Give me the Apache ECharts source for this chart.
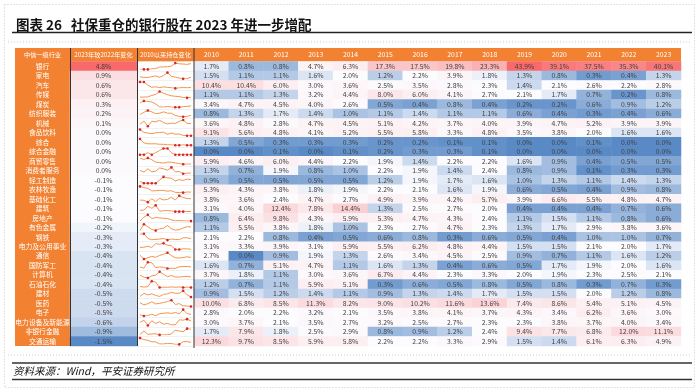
<!DOCTYPE html>
<html><head><meta charset="utf-8">
<script src="https://cdn.jsdelivr.net/npm/echarts@6/dist/echarts.min.js"></script>
<style>html,body{margin:0;padding:0;background:#fff}#c{width:700px;height:392px}</style>
</head><body><div id="c"></div>
<script>
const industries = ['银行','家电','汽车','传媒','煤炭','纺织服装','机械','食品饮料','综合','综合金融','商贸零售','消费者服务','轻工制造','农林牧渔','基础化工','建筑','房地产','有色金属','钢铁','电力及公用事业','通信','国防军工','计算机','石油石化','建材','医药','电子','电力设备及新能源','非银行金融','交通运输'];
const change = [4.8,0.9,0.6,0.6,0.3,0.2,0.1,0.0,0.0,0.0,0.0,0.0,-0.1,-0.1,-0.1,-0.1,-0.1,-0.2,-0.3,-0.3,-0.4,-0.4,-0.4,-0.4,-0.5,-0.5,-0.5,-0.6,-0.9,-1.5];
const years = ['2010','2011','2012','2013','2014','2015','2016','2017','2018','2019','2020','2021','2022','2023'];
const v2010 = [1.7,1.5,10.4,1.1,3.4,0.8,3.6,9.1,1.3,0.0,5.9,1.3,0.9,5.3,3.8,3.1,0.8,1.1,2.1,3.1,2.7,1.6,3.7,1.2,0.9,10.0,2.8,3.0,1.7,12.3];
const v2011 = [0.8,1.1,10.4,1.1,4.7,1.3,4.8,5.6,0.5,0.0,4.6,0.7,0.5,4.3,3.6,4.0,6.4,5.5,2.2,3.3,0.0,0.7,1.8,0.7,1.5,6.8,2.0,3.7,7.9,9.7];
const v2012 = [0.8,1.1,6.0,1.3,4.5,1.7,2.8,4.8,0.3,0.1,6.0,1.9,0.5,3.8,2.4,12.4,9.8,3.8,0.8,3.9,0.9,5.1,1.1,1.1,1.2,8.5,2.2,2.1,1.8,8.5];
const v2013 = [4.7,1.6,3.0,3.2,4.0,1.4,4.7,4.1,0.3,0.0,4.4,0.8,0.5,1.8,4.7,7.8,4.3,1.8,0.4,3.1,1.9,4.7,3.0,5.9,1.4,11.3,3.2,3.5,2.5,5.9];
const v2014 = [6.3,2.0,3.6,4.4,2.6,1.0,4.5,5.2,0.3,0.1,2.2,1.0,0.5,1.9,2.7,14.4,5.9,1.0,0.5,5.9,1.3,1.1,3.6,5.1,1.1,8.2,2.1,2.7,2.9,5.8];
const v2015 = [17.3,1.2,2.5,8.0,0.5,1.1,5.1,5.5,0.2,0.2,1.9,2.2,1.2,2.2,4.9,1.3,5.3,2.3,0.6,5.5,2.6,1.6,6.7,0.3,0.9,9.0,3.5,3.2,0.8,2.2];
const v2016 = [17.5,2.2,3.5,6.0,0.4,1.4,4.2,5.8,0.2,0.3,1.4,1.9,1.9,2.1,3.9,2.5,4.7,2.7,0.8,6.2,3.4,1.3,4.4,0.6,1.3,10.2,3.8,2.5,0.9,2.2];
const v2017 = [19.8,3.9,2.8,4.1,0.8,1.1,3.7,3.3,0.1,0.3,2.2,1.4,1.7,1.6,4.2,2.7,4.3,4.7,0.3,4.8,4.5,0.4,2.3,0.5,1.4,11.6,4.1,2.7,1.2,3.3];
const v2018 = [23.3,1.8,2.3,2.7,0.4,1.1,4.0,4.8,0.1,0.1,2.2,2.4,1.6,1.9,5.7,2.0,2.4,2.3,0.6,4.4,2.5,0.6,3.3,0.8,1.7,13.6,3.7,2.3,2.4,2.9];
const v2019 = [43.9,1.3,1.4,2.1,0.2,0.6,3.9,3.5,0.0,0.0,1.6,0.8,1.0,0.6,3.9,0.4,1.1,1.3,0.5,1.5,0.9,0.5,2.0,0.5,1.5,7.4,4.3,2.3,9.4,1.5];
const v2020 = [39.1,0.8,2.1,1.7,0.2,0.4,4.7,3.8,0.0,0.0,0.9,0.9,1.3,0.5,6.6,0.4,1.5,1.7,0.4,1.5,0.7,1.7,1.9,0.8,1.5,8.6,3.4,3.8,7.7,1.4];
const v2021 = [37.5,0.3,2.6,0.7,0.6,0.3,5.2,2.0,0.1,0.0,0.4,0.1,1.1,0.4,5.5,0.4,1.1,2.9,1.0,2.1,1.1,1.9,2.3,0.3,2.0,5.4,6.2,3.7,6.8,6.1];
const v2022 = [35.3,0.4,2.2,0.2,0.9,0.4,3.9,1.6,0.0,0.0,0.5,0.3,1.4,0.9,4.8,0.7,0.8,3.8,1.0,2.0,1.6,2.0,2.5,0.7,1.2,5.1,3.6,4.0,12.0,6.3];
const v2023 = [40.1,1.3,2.8,0.8,1.2,0.6,3.9,1.6,0.0,0.0,0.5,0.3,1.3,0.8,4.7,0.6,0.6,3.6,0.7,1.7,1.2,1.6,2.1,0.3,0.8,4.5,3.0,3.4,11.1,4.9];
const yearCols = [v2010,v2011,v2012,v2013,v2014,v2015,v2016,v2017,v2018,v2019,v2020,v2021,v2022,v2023];

// ---- layout ----
const T0 = 61.5, TH = 284.5, N = industries.length, RH = TH / N;
const ORANGE = '#F28232';
const FONT = '"Noto Sans CJK SC", "Noto Sans", sans-serif';

function median(a){const s=a.slice().sort((x,y)=>x-y);const n=s.length;return n%2?s[(n-1)/2]:(s[n/2-1]+s[n/2])/2;}
const BLUE=[90,138,198], WHITE=[252,252,255], RED=[248,105,107];
function lerp(a,b,t){return 'rgb('+a.map((c,i)=>Math.round(c+(b[i]-c)*t)).join(',')+')';}
function scale3(v,min,mid,max){
  if(v<=mid){const t=mid===min?1:(v-min)/(mid-min);return lerp(BLUE,WHITE,Math.max(0,Math.min(1,t)));}
  const t=(v-mid)/(max-mid);return lerp(WHITE,RED,Math.max(0,Math.min(1,t)));
}
const allVals = [].concat(...yearCols);
const gMin=Math.min(...allVals), gMax=Math.max(...allVals), gMid=median(allVals);
const cMin=Math.min(...change), cMax=Math.max(...change), cMid=median(change);

const cellLabel = {show:true, fontSize:6.8, color:'#404040', fontFamily:FONT, formatter:p=>p.value[2].toFixed(1)+'%'};

const changeData = change.map((v,i)=>({value:[0,i,v], itemStyle:{color:scale3(v,cMin,cMid,cMax)}}));
const heatData = [];
yearCols.forEach((col,j)=>col.forEach((v,i)=>heatData.push({value:[j,i,v], itemStyle:{color:scale3(v,gMin,gMid,gMax)}})));

const grids = [
  {left:70, top:T0, width:67, height:TH},
  {left:137, top:T0, width:57, height:TH},
  {left:194, top:T0, width:487, height:TH}
];
const hdrLabel = {color:'#fff', fontSize:6.2, fontFamily:FONT, margin:3.8};
const xAxes = [
  {type:'category', gridIndex:0, position:'top', data:['2023年较2022年变化'], axisLine:{show:false}, axisTick:{show:false}, axisLabel:hdrLabel},
  {type:'category', gridIndex:1, position:'top', data:['2010以来持仓变化'], axisLine:{show:false}, axisTick:{show:false}, axisLabel:hdrLabel},
  {type:'category', gridIndex:2, position:'top', data:years, axisLine:{show:false}, axisTick:{show:false}, axisLabel:Object.assign({interval:0},hdrLabel,{fontSize:6.8})}
];
const yAxes = [
  {type:'category', gridIndex:0, inverse:true, data:industries, axisLine:{show:false}, axisTick:{show:false},
   axisLabel:{interval:0, color:'#fff', fontSize:6.8, fontFamily:FONT, align:'center', margin:27.5}},
  {type:'category', gridIndex:1, inverse:true, data:industries, axisLine:{show:false}, axisTick:{show:false}, axisLabel:{show:false},
   splitLine:{show:true, interval:0, lineStyle:{color:'#e8e8e8', width:0.6}}},
  {type:'category', gridIndex:2, inverse:true, data:industries, axisLine:{show:false}, axisTick:{show:false}, axisLabel:{show:false}}
];
const series = [
  {type:'heatmap', xAxisIndex:0, yAxisIndex:0, data:changeData, label:cellLabel, silent:true},
  {type:'heatmap', xAxisIndex:2, yAxisIndex:2, data:heatData, label:cellLabel, silent:true}
];
industries.forEach((name,i)=>{
  const row = yearCols.map(c=>c[i]);
  const mx = Math.max(...row), mn = Math.min(...row);
  const gi = grids.length;
  grids.push({left:140, width:51, top:T0 + i*RH + 1.6, height:RH-3.2});
  xAxes.push({type:'category', gridIndex:gi, data:years, boundaryGap:false, show:false});
  yAxes.push({type:'value', gridIndex:gi, min:mn, max:mx, show:false});
  series.push({type:'line', xAxisIndex:gi, yAxisIndex:gi, silent:true,
    data:row.map(v=>(v===mx||v===mn)?{value:v, symbol:'circle', symbolSize:2.6}:{value:v, symbol:'none', symbolSize:0}),
    lineStyle:{color:'#F0893A', width:0.9}, itemStyle:{color:'#D7262B', borderWidth:0},
    showSymbol:true, showAllSymbol:true});
});

const chart = echarts.init(document.getElementById('c'), null, {renderer:'canvas'});
chart.setOption({
  animation:false,
  backgroundColor:'#fff',
  title:[
    {text:'图表 26', left:11, top:13, textStyle:{fontSize:13.5, fontWeight:'bold', color:'#111', fontFamily:FONT}},
    {text:'社保重仓的银行股在 2023 年进一步增配', left:66, top:13, textStyle:{fontSize:13.5, fontWeight:'bold', color:'#111', fontFamily:FONT}}
  ],
  graphic:[
    {type:'rect', z:-100, shape:{x:4.5,y:4.5,width:690,height:383}, style:{fill:'none', stroke:'#c8c8c8', lineWidth:1, lineDash:[1,2]}},
    {type:'line', z:-100, shape:{x1:12,y1:32.5,x2:692,y2:32.5}, style:{stroke:'#222', lineWidth:1.5}},
    {type:'line', z:-100, shape:{x1:8,y1:42,x2:692,y2:42}, style:{stroke:'#ccc', lineWidth:1, lineDash:[1,2]}},
    {type:'rect', z:-100, shape:{x:15,y:48,width:666,height:13.5}, style:{fill:ORANGE}},
    {type:'rect', z:-100, shape:{x:15,y:48,width:55,height:298}, style:{fill:ORANGE}},
    {type:'text', z:10, style:{text:'中信一级行业', x:42.5, y:54.8, fill:'#fff', fontSize:6.2, fontFamily:FONT, textAlign:'center', textVerticalAlign:'middle'}},
    {type:'line', z:10, shape:{x1:70.5,y1:48,x2:70.5,y2:346}, style:{stroke:'#333', lineWidth:1}},
    {type:'line', z:10, shape:{x1:137.5,y1:48,x2:137.5,y2:346}, style:{stroke:'#333', lineWidth:1}},
    {type:'line', z:10, shape:{x1:194,y1:48,x2:194,y2:348}, style:{stroke:'#333', lineWidth:1}},
    {type:'line', z:-100, shape:{x1:8,y1:355,x2:692,y2:355}, style:{stroke:'#ccc', lineWidth:1, lineDash:[1,2]}},
    {type:'line', z:-100, shape:{x1:12,y1:363,x2:692,y2:363}, style:{stroke:'#333', lineWidth:1.3}},
    {type:'text', z:10, style:{text:'资料来源：Wind，平安证券研究所', x:13, y:371, fill:'#111', fontSize:10.5, fontStyle:'italic', fontFamily:FONT, textVerticalAlign:'middle'}},
    {type:'line', z:-100, shape:{x1:12,y1:379.5,x2:692,y2:379.5}, style:{stroke:'#333', lineWidth:1.3}}
  ],
  grid:grids, xAxis:xAxes, yAxis:yAxes, series:series
});
</script></body></html>
